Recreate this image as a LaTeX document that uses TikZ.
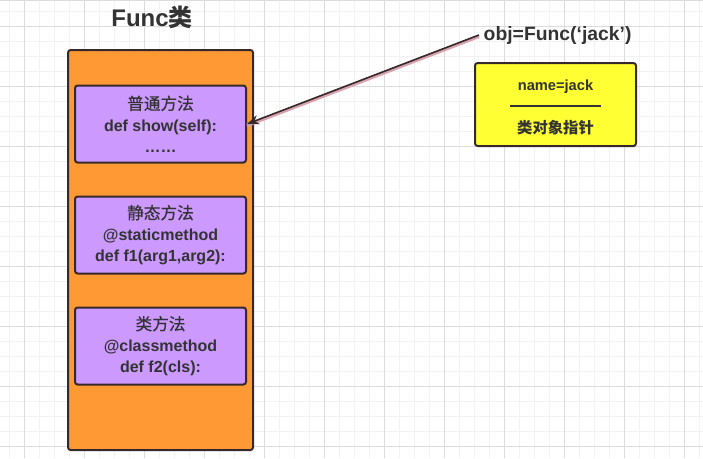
\documentclass[tikz,border=0pt]{standalone}
\usepackage{fontspec}
\setmainfont{Liberation Sans}
\newfontfamily\cjk{Noto Sans CJK SC}
\newfontfamily\cjkmid[FakeBold=0.5]{Noto Sans CJK SC}
\usetikzlibrary{arrows.meta, positioning}
\definecolor{gridminor}{HTML}{F2F2F2}
\definecolor{gridmajor}{HTML}{DCDCDC}
\definecolor{classfill}{HTML}{FF9933}
\definecolor{methodfill}{HTML}{CC99FF}
\definecolor{objfill}{HTML}{FFFF33}
\definecolor{edge}{HTML}{36292B}
\definecolor{ink}{HTML}{333333}
\definecolor{shade}{HTML}{D9A3AD}
\tikzstyle{classbox} = [rectangle, rounded corners=2pt, minimum width=138.75pt, minimum height=300pt, draw=edge, line width=1.5pt, fill=classfill]
\tikzstyle{method} = [rectangle, rounded corners=2pt, minimum width=128.25pt, minimum height=57.75pt, draw=edge, line width=1.5pt, fill=methodfill, align=center, text=ink, font=\bfseries\fontsize{12}{16}\selectfont]
\tikzstyle{objbox} = [rectangle, rounded corners=2pt, minimum width=120.75pt, minimum height=62.25pt, draw=edge, line width=1.5pt, fill=objfill]
\tikzstyle{objtext} = [align=center, text=ink, font=\bfseries\fontsize{11}{15.4}\selectfont]
\tikzstyle{label} = [text=ink, font=\bfseries]
\tikzstyle{arrow} = [line width=1.2pt, draw=edge, -{Stealth[length=9pt, width=7pt]}]
\tikzstyle{shadowline} = [line width=2.6pt, draw=shade]

\begin{document}
\begin{tikzpicture}[x=0.75pt, y=-0.75pt, node distance=83.25pt]
\useasboundingbox (0,0) rectangle (703,458);
% background grid
\foreach \gx in {9,24,...,703} \draw[gridminor, line width=0.5pt] (\gx,0) -- (\gx,458);
\foreach \gy in {11,26,...,458} \draw[gridminor, line width=0.5pt] (0,\gy) -- (703,\gy);
\foreach \gx in {24,84,...,703} \draw[gridmajor, line width=0.6pt] (\gx,0) -- (\gx,458);
\foreach \gy in {26,86,...,458} \draw[gridmajor, line width=0.6pt] (0,\gy) -- (703,\gy);
\draw[gridmajor, line width=0.6pt] (0,0.5) -- (703,0.5);
% class
\node (title) [label, font=\bfseries\fontsize{18}{20}\selectfont] at (152,17) {Func{\cjk 类}};
\node (func) [classbox] at (160.5,250) {};
\node (show) [method] at (160.5,124) {{\cjkmid\mdseries\fontsize{12.5}{16}\selectfont 普通方法}\\def show(self):\\……};
\node (static) [method, below of = show] {{\cjkmid\mdseries\fontsize{12.5}{16}\selectfont 静态方法}\\@staticmethod\\def f1(arg1,arg2):};
\node (cls) [method, below of = static] {{\cjkmid\mdseries\fontsize{12.5}{16}\selectfont 类方法}\\@classmethod\\def f2(cls):};
% instance
\node (obj) [label, anchor=west, font=\bfseries\fontsize{14.5}{16}\selectfont] at (479,35) {obj=Func(`jack')};
\node (inst) [objbox] at (555.5,104.5) {};
\node (instinfo) [objtext] at (555.5,107.5) {name=jack\\[0pt]\rule[3.3pt]{68pt}{1.2pt}\\[1.5pt]{\cjk\fontsize{11.5}{15.4}\selectfont 类对象指针}};
\draw [shadowline] ([yshift=-1pt]obj.west) -- ([yshift=-1pt]show.east);
\draw [arrow] (obj.west) -- (show.east);
\end{tikzpicture}
\end{document}
